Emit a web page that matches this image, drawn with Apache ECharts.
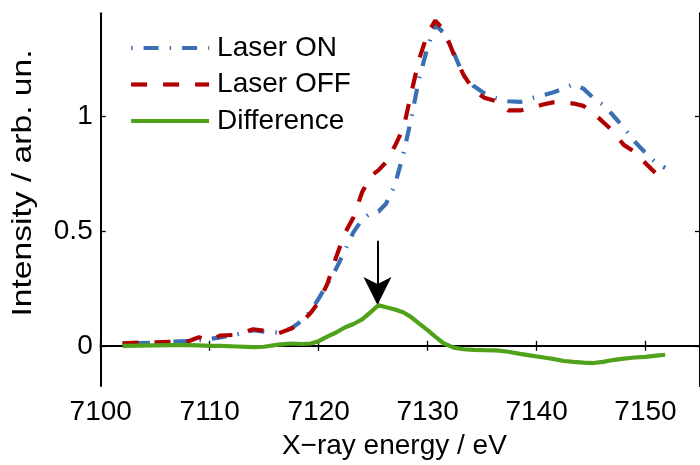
<!DOCTYPE html>
<html>
<head>
<meta charset="utf-8">
<script src="https://cdn.jsdelivr.net/npm/echarts@6/dist/echarts.min.js"></script>
<style>
  html, body { margin: 0; padding: 0; background: #fff; }
  #chart { width: 700px; height: 465px; }
</style>
</head>
<body>
<div id="chart"></div>
<script>
// X-ray energy grid (eV)
const energy = [
  7102, 7103.5, 7105, 7106.5, 7108, 7109, 7110, 7111, 7112.5, 7114,
  7115, 7116.3, 7117.5, 7118.5, 7119.3, 7120, 7120.8, 7121.6, 7122.4, 7123.2,
  7124, 7124.8, 7125.5, 7126.2, 7127, 7127.8, 7128.5, 7129.2, 7130, 7130.7,
  7131.5, 7132.4, 7133.3, 7134.2, 7135.2, 7136.3, 7137.4, 7138.5, 7139.5, 7140.5,
  7141.5, 7142.5, 7143.4, 7144.3, 7145.2, 7146.1, 7147, 7148, 7149, 7150,
  7151, 7151.8
];

// Pumped spectrum
const laserOn = [
  0.010, 0.012, 0.014, 0.018, 0.020, 0.025, 0.030, 0.037, 0.050, 0.068,
  0.062, 0.058, 0.076, 0.110, 0.155, 0.205, 0.270, 0.335, 0.414, 0.495,
  0.550, 0.580, 0.585, 0.620, 0.700, 0.840, 0.990, 1.160, 1.300, 1.398,
  1.362, 1.276, 1.175, 1.132, 1.100, 1.078, 1.065, 1.062, 1.078, 1.090,
  1.103, 1.120, 1.140, 1.120, 1.080, 1.050, 1.005, 0.950, 0.890, 0.840,
  0.795, 0.775
];

// Ground-state spectrum
const laserOff = [
  0.011, 0.014, 0.015, 0.018, 0.019, 0.037, 0.025, 0.045, 0.048, 0.072,
  0.066, 0.054, 0.075, 0.105, 0.145, 0.190, 0.270, 0.385, 0.490, 0.560,
  0.670, 0.740, 0.765, 0.800, 0.870, 0.950, 1.100, 1.245, 1.360, 1.416,
  1.375, 1.270, 1.180, 1.115, 1.080, 1.065, 1.025, 1.025, 1.035, 1.050,
  1.060, 1.060, 1.055, 1.045, 1.015, 0.975, 0.935, 0.875, 0.845, 0.795,
  0.748, 0.740
];

// Difference spectrum
const difference = [
  0.000, 0.001, 0.002, 0.003, 0.003, 0.002, 0.000, 0.000, -0.003, -0.006,
  -0.004, 0.005, 0.010, 0.008, 0.010, 0.020, 0.040, 0.058, 0.080, 0.095,
  0.115, 0.148, 0.177, 0.168, 0.158, 0.145, 0.125, 0.098, 0.068, 0.040,
  0.010, -0.008, -0.015, -0.018, -0.019, -0.020, -0.026, -0.035, -0.043, -0.050,
  -0.057, -0.066, -0.070, -0.073, -0.075, -0.070, -0.062, -0.056, -0.051, -0.048,
  -0.043, -0.039
];

const xTicks = [7100, 7110, 7120, 7130, 7140, 7150];
const yTicks = [0, 0.5, 1];

// Arrow marking the pre-edge feature: [energy, top, tip]
const arrowMark = [7125.4, 0.458, 0.178];

const FONT = '"Liberation Sans", Arial, Helvetica, sans-serif';
const LINE_W = 4.2;
const pair = (xs, ys) => xs.map((x, i) => [x, ys[i]]);

const chart = echarts.init(document.getElementById('chart'), null, { renderer: 'canvas' });

const axisCommon = {
  axisLine: { lineStyle: { color: '#000', width: 2 } },
  axisTick: { inside: true, length: 5, lineStyle: { color: '#000', width: 1.3 } },
  splitLine: { show: false }
};

chart.setOption({
  animation: false,
  backgroundColor: '#fff',
  grid: { left: 100.7, top: 13.3, right: -5, bottom: 75, containLabel: false },
  legend: {
    orient: 'vertical',
    left: 129,
    top: 34,
    padding: 0,
    itemGap: 8.5,
    itemWidth: 78,
    itemHeight: 14,
    itemStyle: { opacity: 0 },
    lineStyle: { width: LINE_W },
    textStyle: { fontFamily: FONT, fontSize: 28, color: '#000', padding: [0, 0, 0, 3] },
    data: ['Laser ON', 'Laser OFF', 'Difference']
  },
  xAxis: [
    Object.assign({}, axisCommon, {
      type: 'value', min: 7100, max: 7155, interval: 10,
      position: 'bottom',
      axisTick: Object.assign({}, axisCommon.axisTick, { customValues: xTicks }),
      axisLabel: {
        customValues: xTicks, margin: 12, fontFamily: FONT, fontSize: 28, color: '#000',
        formatter: v => String(v)
      },
      name: 'X\u2212ray energy / eV',
      nameLocation: 'middle',
      nameGap: 46,
      nameTextStyle: { fontFamily: FONT, fontSize: 28, color: '#000', padding: [0, 12, 0, 0] }
    }),
    Object.assign({}, axisCommon, {
      type: 'value', min: 7100, max: 7155, interval: 10,
      position: 'top',
      axisTick: Object.assign({}, axisCommon.axisTick, { customValues: xTicks }),
      axisLabel: { show: false }
    })
  ],
  yAxis: [
    Object.assign({}, axisCommon, {
      type: 'value', min: -0.175, max: 1.448,
      position: 'left',
      axisTick: Object.assign({}, axisCommon.axisTick, { customValues: yTicks }),
      axisLabel: {
        customValues: yTicks, margin: 8, fontFamily: FONT, fontSize: 28, color: '#000',
        formatter: v => String(v)
      }
    }),
    Object.assign({}, axisCommon, {
      type: 'value', min: -0.175, max: 1.448,
      position: 'right',
      axisTick: Object.assign({}, axisCommon.axisTick, { customValues: yTicks }),
      axisLabel: { show: false }
    })
  ],
  graphic: [{
    type: 'text',
    x: 23,
    y: 183,
    rotation: Math.PI / 2,
    scaleX: 1.2,
    style: {
      text: 'Intensity / arb. un.',
      fontFamily: FONT,
      fontSize: 28,
      fill: '#000',
      align: 'center',
      verticalAlign: 'middle'
    }
  }],
  series: [
    {
      name: 'Laser ON',
      type: 'line',
      xAxisIndex: 0,
      yAxisIndex: 0,
      data: pair(energy, laserOn),
      showSymbol: false,
      symbol: 'none',
      smooth: false,
      color: '#3a6fb4',
      lineStyle: { color: '#3a6fb4', width: LINE_W, type: [1.5, 11, 15, 11] },
      z: 3
    },
    {
      name: 'Laser OFF',
      type: 'line',
      xAxisIndex: 0,
      yAxisIndex: 0,
      data: pair(energy, laserOff),
      showSymbol: false,
      symbol: 'none',
      smooth: false,
      color: '#b00000',
      lineStyle: { color: '#b00000', width: LINE_W, type: [16, 16] },
      z: 4
    },
    {
      name: 'Difference',
      type: 'line',
      xAxisIndex: 0,
      yAxisIndex: 0,
      data: pair(energy, difference),
      showSymbol: false,
      symbol: 'none',
      smooth: false,
      color: '#4fa21a',
      lineStyle: { color: '#4fa21a', width: LINE_W, type: 'solid' },
      z: 5,
      markLine: {
        silent: true,
        animation: false,
        symbol: ['none', 'arrow'],
        symbolSize: [21, 28],
        label: { show: false },
        lineStyle: { color: '#000', width: 2, type: 'solid' },
        data: [[
          { coord: [arrowMark[0], arrowMark[1]] },
          { coord: [arrowMark[0], arrowMark[2]] }
        ]]
      }
    }
  ]
});
</script>
</body>
</html>
